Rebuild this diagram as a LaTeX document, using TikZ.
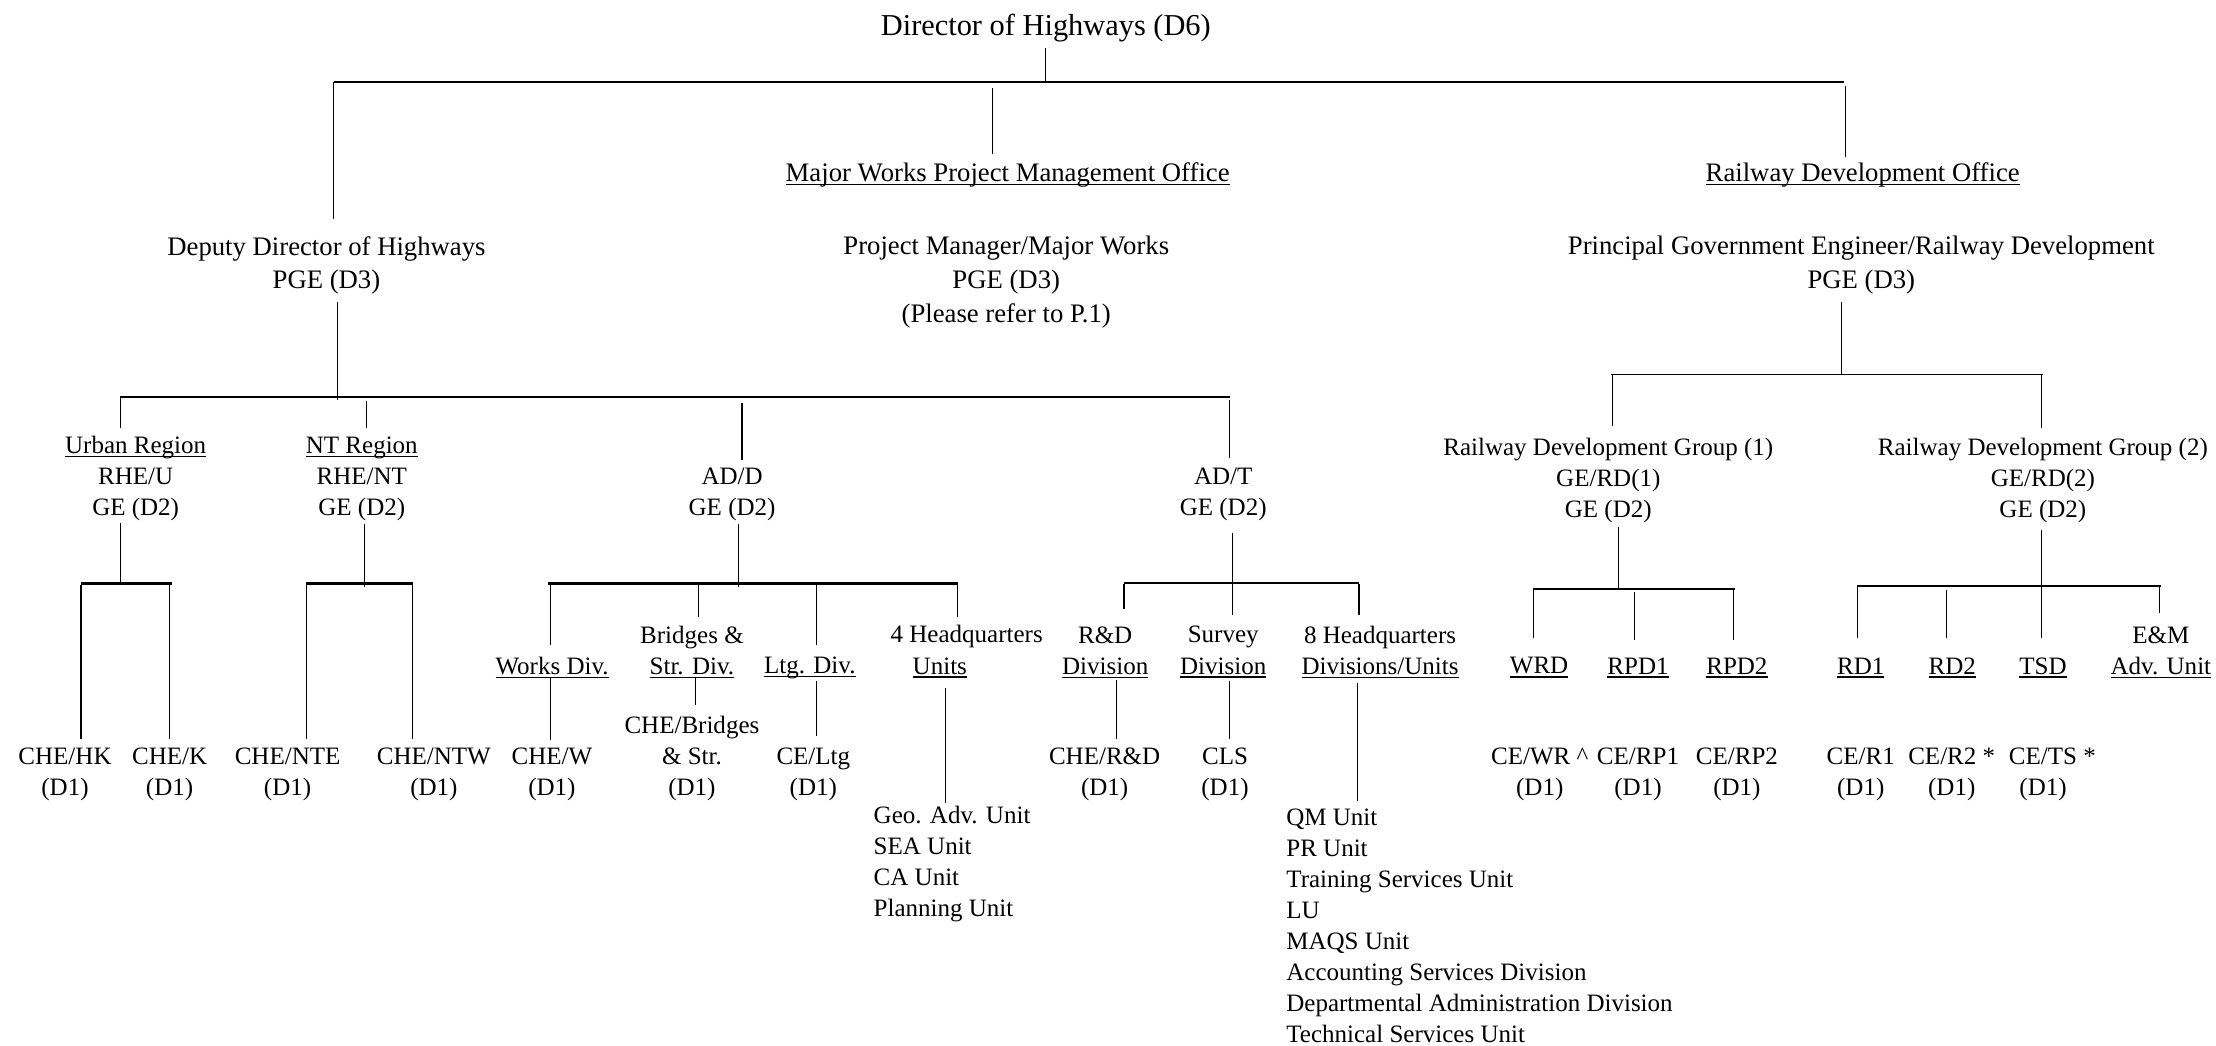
\documentclass[tikz,border=0pt]{standalone}
\usepackage{fontspec}
\setmainfont{Liberation Serif}
\newcommand\uln[1]{\setbox0\hbox{#1}\rlap{\rule[-2.6pt]{\wd0}{0.9pt}}\box0}
\newcommand\cnx[4][thinln]{\coordinate (#2a) at #3; \coordinate (#2b) at #4; \draw[#1] (#2a) -- (#2b);}
\tikzset{
 txt/.style={inner sep=0pt, align=center, yshift=-1.8pt, font=\fontsize{17.7}{22}\selectfont},
 txtw/.style={inner sep=0pt, align=center, yshift=-1.8pt, font=\fontsize{18.9}{24}\selectfont},
 ttl/.style={inner sep=0pt, yshift=-1.8pt, font=\fontsize{21.5}{26}\selectfont},
 lst/.style={inner sep=0pt, align=left, anchor=west, font=\fontsize{17.7}{22}\selectfont},
 thinln/.style={line width=0.75pt},
 busln/.style={line width=1.3pt},
 hbusln/.style={line width=2pt},
}
\begin{document}
\begin{tikzpicture}[x=1pt,y=-1pt]
\useasboundingbox (0,0) rectangle (1568,740);
% ---- text nodes
\node[ttl] (dir) at (740,18) {Director of Highways (D6)};
\node[txtw] (mwo) at (713,122) {\uln{Major Works Project Management Office}};
\node[txtw] (rdo) at (1318,122) {\uln{Railway Development Office}};
\node[txtw] (ddh) at (231,186) {Deputy Director of Highways\\PGE (D3)};
\node[txtw] (pmw) at (712,198) {Project Manager/Major Works\\PGE (D3)\\(Please refer to P.1)};
\node[txtw] (pge) at (1317,186) {Principal Government Engineer/Railway Development\\PGE (D3)};
\node[txt] (urb) at (96,337) {\uln{Urban Region}\\RHE/U\\GE (D2)};
\node[txt] (ntr) at (256,337) {\uln{NT Region}\\RHE/NT\\GE (D2)};
\node[txt] (add) at (518,348) {AD/D\\GE (D2)};
\node[txt] (adt) at (865.5,348) {AD/T\\GE (D2)};
\node[txt] (rg1) at (1138,338) {Railway Development Group (1)\\GE/RD(1)\\GE (D2)};
\node[txt] (rg2) at (1445.5,338) {Railway Development Group (2)\\GE/RD(2)\\GE (D2)};
% level 4
\node[txt] (wkd) at (390.7,470.6) {\uln{Works Div.}};
\node[txt] (bsd) at (489.6,459.6) {Bridges \&\\\uln{Str. Div.}};
\node[txt] (ltg) at (573,470.6) {\uln{Ltg. Div.}};
\node[txt] (hq4t) at (684,448.6) {4 Headquarters};
\node[txt] (hq4) at (665,470.6) {\uln{Units}};
\node[txt] (rnd) at (782,459.6) {R\&D\\\uln{Division}};
\node[txt] (srv) at (865.5,459.6) {Survey\\\uln{Division}};
\node[txt] (hq8) at (976.5,459.6) {8 Headquarters\\\uln{Divisions/Units}};
\node[txt] (wrd) at (1089,470.6) {\uln{WRD}};
\node[txt] (rp1) at (1159,470.6) {\uln{RPD1}};
\node[txt] (rp2) at (1229,470.6) {\uln{RPD2}};
\node[txt] (rd1) at (1316.6,470.6) {\uln{RD1}};
\node[txt] (rd2) at (1381.4,470.6) {\uln{RD2}};
\node[txt] (tsd) at (1445.6,470.6) {\uln{TSD}};
\node[txt] (emu) at (1529,459.6) {E\&M\\\uln{Adv. Unit}};
% level 5
\node[txt] (chk) at (46,546) {CHE/HK\\(D1)};
\node[txt] (chek) at (120,546) {CHE/K\\(D1)};
\node[txt] (nte) at (203.5,546) {CHE/NTE\\(D1)};
\node[txt] (ntw) at (307,546) {CHE/NTW\\(D1)};
\node[txt] (chw) at (390.5,546) {CHE/W\\(D1)};
\node[txt] (cbr) at (489.6,535) {CHE/Bridges\\\& Str.\\(D1)};
\node[txt] (cel) at (575.5,546) {CE/Ltg\\(D1)};
\node[txt] (crd) at (781.6,546) {CHE/R\&D\\(D1)};
\node[txt] (cls) at (866.8,546) {CLS\\(D1)};
\node[txt] (cwr) at (1089.5,546) {CE/WR \textasciicircum\\(D1)};
\node[txt] (cr1) at (1159,546) {CE/RP1\\(D1)};
\node[txt] (cr2) at (1229,546) {CE/RP2\\(D1)};
\node[txt] (ce1) at (1316.6,546) {CE/R1\\(D1)};
\node[txt] (ce2) at (1381,546) {CE/R2 *\\(D1)};
\node[txt] (cts) at (1445.6,546) {CE/TS\rlap{ *}\\(D1)};
\node[lst] (l4) at (618,611.5) {Geo. Adv. Unit\\SEA Unit\\CA Unit\\Planning Unit};
\node[lst] (l8) at (910,655) {QM Unit\\PR Unit\\Training Services Unit\\LU\\MAQS Unit\\Accounting Services Division\\Departmental Administration Division\\Technical Services Unit};
% ---- connectors: top level
\cnx{t0}{(739.5,34)}{(739.5,58)}
\cnx[busln]{tb}{(236,58)}{(1305,58)}
\cnx{t1}{(236,58)}{(236,155)}
\cnx{t2}{(702,62)}{(702,109)}
\cnx{t3}{(1305.5,61)}{(1305.5,111)}
% deputy director branch
\cnx{d0}{(239,214)}{(239,283)}
\cnx[busln]{db}{(85,281)}{(870.5,281)}
\cnx{d1}{(85,281)}{(85,303)}
\cnx{d2}{(259.5,283.5)}{(259.5,303)}
\cnx{d3}{(525,285)}{(525,325.5)}
\cnx{d4}{(870,283)}{(870,324)}
% urban region
\cnx{u0}{(85,370)}{(85,413)}
\cnx[hbusln]{ub}{(57.3,412.7)}{(121.8,412.7)}
\cnx{u1}{(57.3,414)}{(57.3,523)}
\cnx{u2}{(120,414)}{(120,523)}
% NT region
\cnx{n0}{(258,371)}{(258,415)}
\cnx[hbusln]{nb}{(216.6,412.7)}{(292.4,412.7)}
\cnx{n1}{(216.6,414)}{(216.6,523)}
\cnx{n2}{(292,414)}{(292,523)}
% AD/D
\cnx{a0}{(522.5,371)}{(522.5,415)}
\cnx[hbusln]{ab}{(388,412.7)}{(678,412.7)}
\cnx{a1}{(389.4,414)}{(389.4,456.4)}
\cnx{a2}{(494,414)}{(494,436.8)}
\cnx{a3}{(577.6,414)}{(577.6,456.4)}
\cnx{a4}{(677.3,414)}{(677.3,436.8)}
\cnx{w1}{(389.4,479)}{(389.4,523.6)}
\cnx{w2}{(491.9,479)}{(491.9,498.8)}
\cnx{w3}{(577.6,482)}{(577.6,521)}
\cnx{w4}{(669.2,487)}{(669.2,568)}
% AD/T
\cnx{b0}{(872,377)}{(872,413)}
\cnx[busln]{bb}{(795.3,412.7)}{(961.6,412.7)}
\cnx{b1}{(795.3,413)}{(795.3,431)}
\cnx{b2}{(872,413)}{(872,435)}
\cnx{b3}{(961.6,413)}{(961.6,435)}
\cnx{v1}{(789.8,481)}{(789.8,523)}
\cnx{v2}{(870,482)}{(870,523)}
\cnx{v3}{(960.5,483)}{(960.5,566.5)}
% railway development
\cnx{r0}{(1303,214)}{(1303,265)}
\cnx[busln]{rb}{(1140,265)}{(1445.5,265)}
\cnx{r1}{(1141,265)}{(1141,301.4)}
\cnx{r2}{(1444.5,265)}{(1444.5,303)}
% group 1
\cnx{g0}{(1145,373)}{(1145,417)}
\cnx[busln]{gb}{(1085,417)}{(1227.6,417)}
\cnx{g1}{(1085,417)}{(1085,451.5)}
\cnx{g2}{(1156.4,419)}{(1156.4,452.6)}
\cnx{g3}{(1226.7,417)}{(1226.7,452.6)}
% group 2
\cnx{h0}{(1444.5,375)}{(1444.5,414.4)}
\cnx[busln]{hb}{(1314,414.4)}{(1529,414.4)}
\cnx{h1}{(1314,414.4)}{(1314,451.6)}
\cnx{h2}{(1377,417.5)}{(1377,451.6)}
\cnx{h3}{(1444.5,414.4)}{(1444.5,451.6)}
\cnx{h4}{(1528,414.4)}{(1528,433.5)}
\end{tikzpicture}
\end{document}
